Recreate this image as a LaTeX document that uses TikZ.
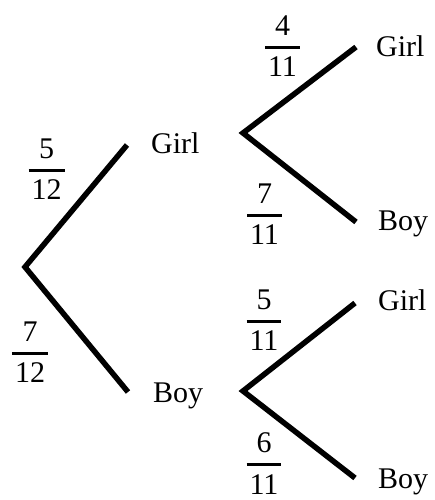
\documentclass[tikz,border=0pt]{standalone}
\usepackage{fontspec}
\setmainfont{Liberation Serif}
\newcommand\myfr[2]{\vbox{\halign{\hfil\kern3pt##\kern3pt\hfil\cr #1\cr\noalign{\kern10pt\hrule height 3pt\kern8pt}#2\cr}}}
\begin{document}
\begin{tikzpicture}[x=1pt,y=-1pt,
  branch/.style={line width=5.5pt},
  lbl/.style={inner sep=0pt,anchor=base west,font=\fontsize{30}{36}\selectfont},
  frac/.style={inner sep=0pt,anchor=base,font=\fontsize{30}{36}\selectfont}]
\useasboundingbox (0,0) rectangle (435,500);
% vertices
\coordinate (r) at (25,267);
\coordinate (g) at (127,145);
\coordinate (b) at (128,392);
\coordinate (g0) at (243,133);
\coordinate (gg) at (356,47);
\coordinate (gb) at (356,222);
\coordinate (b0) at (243,391);
\coordinate (bg) at (355,303);
\coordinate (bb) at (355,478);
% branches
\draw[branch] (g) -- (r) -- (b);
\draw[branch] (gg) -- (g0) -- (gb);
\draw[branch] (bg) -- (b0) -- (bb);
% labels
\node[lbl] (tg) at (151,153) {Girl};
\node[lbl] (tb) at (153,402) {Boy};
\node[lbl] (tgg) at (376,57) {Girl};
\node[lbl] (tgb) at (378,230) {Boy};
\node[lbl] (tbg) at (378,310) {Girl};
\node[lbl] (tbb) at (378,488) {Boy};
% fractions
\node[frac] (f1) at (46.5,199.5) {\myfr{5}{12}};
\node[frac] (f2) at (30,382.5) {\myfr{7}{12}};
\node[frac] (f3) at (282.5,76.5) {\myfr{4}{11}};
\node[frac] (f4) at (264.5,244.5) {\myfr{7}{11}};
\node[frac] (f5) at (264,350.5) {\myfr{5}{11}};
\node[frac] (f6) at (264,494) {\myfr{6}{11}};
\end{tikzpicture}
\end{document}
